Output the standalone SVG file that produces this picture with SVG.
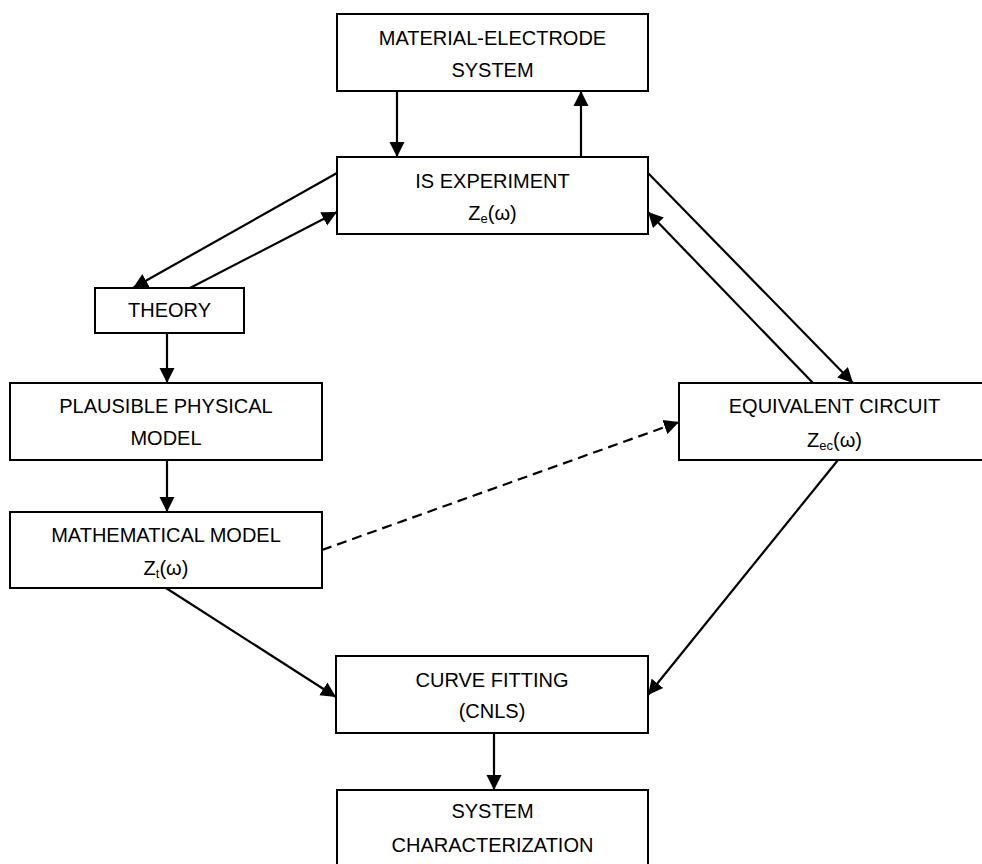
<svg xmlns="http://www.w3.org/2000/svg" width="982" height="864" viewBox="0 0 982 864">
<defs>
<marker id="ah" markerUnits="userSpaceOnUse" markerWidth="16" markerHeight="16" refX="15" refY="8" orient="auto" viewBox="0 0 16 16">
<path d="M0,0.5 L15,8 L0,15.5 z" fill="#000"/>
</marker>
</defs>
<style>
.box{fill:#fff;stroke:#000;stroke-width:2}
.t{font-family:"Liberation Sans",Arial,sans-serif;font-size:20px;fill:#000;text-anchor:middle}
.sub{font-size:13px}
.c{stroke:#000;stroke-width:2.2;fill:none;marker-end:url(#ah)}
.d{stroke-dasharray:10,6}
</style>
<rect width="982" height="864" fill="#fff"/>
<g id="connectors">
<line class="c" x1="397" y1="92" x2="397" y2="157"/>
<line class="c" x1="581" y1="157" x2="581" y2="91"/>
<line class="c" x1="337" y1="173" x2="133" y2="288"/>
<line class="c" x1="190" y1="288" x2="337" y2="212"/>
<line class="c" x1="648" y1="173" x2="853" y2="383"/>
<line class="c" x1="813" y1="383" x2="648" y2="212"/>
<line class="c" x1="167" y1="333" x2="167" y2="383"/>
<line class="c" x1="167" y1="460" x2="167" y2="512"/>
<line class="c d" x1="322" y1="550" x2="679" y2="422"/>
<line class="c" x1="166" y1="588" x2="336" y2="697"/>
<line class="c" x1="838" y1="460" x2="648" y2="695"/>
<line class="c" x1="494" y1="733" x2="494" y2="790"/>
</g>
<g id="material-electrode">
<rect class="box" x="337" y="14" width="311" height="77"/>
<text class="t" x="492.5" y="45">MATERIAL-ELECTRODE</text>
<text class="t" x="492.5" y="77">SYSTEM</text>
</g>
<g id="is-experiment">
<rect class="box" x="337" y="157" width="311" height="77"/>
<text class="t" x="492.5" y="188">IS EXPERIMENT</text>
<text class="t" x="492.5" y="220">Z<tspan class="sub" dy="3">e</tspan><tspan dy="-3">(ω)</tspan></text>
</g>
<g id="theory">
<rect class="box" x="95" y="288" width="149" height="45"/>
<text class="t" x="169.5" y="317">THEORY</text>
</g>
<g id="plausible-physical-model">
<rect class="box" x="10" y="383" width="312" height="77"/>
<text class="t" x="166" y="413">PLAUSIBLE PHYSICAL</text>
<text class="t" x="166" y="445">MODEL</text>
</g>
<g id="mathematical-model">
<rect class="box" x="10" y="512" width="312" height="76"/>
<text class="t" x="166" y="542">MATHEMATICAL MODEL</text>
<text class="t" x="166" y="575">Z<tspan class="sub" dy="3">t</tspan><tspan dy="-3">(ω)</tspan></text>
</g>
<g id="equivalent-circuit">
<rect class="box" x="679" y="383" width="311" height="77"/>
<text class="t" x="834.5" y="413">EQUIVALENT CIRCUIT</text>
<text class="t" x="834.5" y="447">Z<tspan class="sub" dy="3">ec</tspan><tspan dy="-3">(ω)</tspan></text>
</g>
<g id="curve-fitting">
<rect class="box" x="336" y="656" width="312" height="77"/>
<text class="t" x="492" y="687">CURVE FITTING</text>
<text class="t" x="492" y="718">(CNLS)</text>
</g>
<g id="system-characterization">
<rect class="box" x="337" y="790" width="311" height="80"/>
<text class="t" x="492.5" y="818">SYSTEM</text>
<text class="t" x="492.5" y="852">CHARACTERIZATION</text>
</g>
</svg>
